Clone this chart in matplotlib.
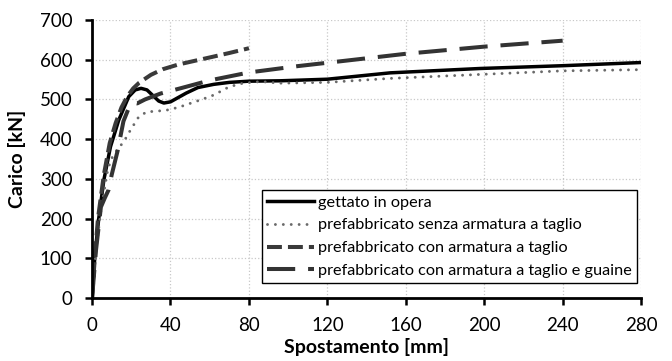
import numpy as np
import matplotlib.pyplot as plt

plt.rcParams['font.family'] = ['Lato', 'DejaVu Sans']

# gettato in opera
x_opera = [0, 1.5, 3.4, 6, 9.4, 13.6, 18.7, 22, 25, 28, 31, 34, 36.6, 40, 44, 48, 54, 62, 70, 80, 96, 120, 152, 198, 240, 280]
y_opera = [0, 110, 200, 297, 381, 448, 507, 524, 528, 524, 510, 496, 491, 494, 505, 516, 530, 538, 543, 546, 547, 551, 567, 578, 585, 593]

# prefabbricato senza armatura a taglio
x_senza = [0, 2, 4.5, 7.7, 9.5, 12.8, 16.2, 19.6, 23.9, 28, 32, 38, 44, 50, 56, 62, 70, 77, 86, 96, 120, 152, 198, 240, 280]
y_senza = [0, 120, 220, 315, 348, 373, 394, 423, 457, 469, 470, 473, 480, 490, 500, 511, 532, 541, 545, 541, 543, 553, 563, 572, 575]

# prefabbricato con armatura a taglio
x_con = [0, 1.5, 3, 6, 9, 12, 15, 18, 21, 24, 30, 36, 44, 53, 62, 70, 80]
y_con = [0, 110, 200, 310, 390, 440, 480, 508, 528, 542, 562, 576, 588, 598, 608, 617, 629]

# prefabbricato con armatura a taglio e guaine
x_guaine = [0, 2, 4.5, 6.5, 8.4, 10, 13, 16, 19, 21, 23, 27, 35, 45, 60, 80, 105, 130, 160, 200, 240]
y_guaine = [0, 120, 229, 252, 272, 310, 370, 445, 482, 492, 490, 500, 515, 528, 548, 568, 584, 598, 615, 633, 648]

labels = ['gettato in opera',
          'prefabbricato senza armatura a taglio',
          'prefabbricato con armatura a taglio',
          'prefabbricato con armatura a taglio e guaine']

fig = plt.figure(figsize=(6.72, 3.61), dpi=100)
ax = fig.add_axes([0.137, 0.1745, 0.817, 0.77])

ax.plot(x_opera, y_opera, color='black', lw=2.5, label=labels[0])
ax.plot(x_senza, y_senza, color='#6a6a6a', lw=2.1, linestyle=(0, (0.01, 2.7)),
        dash_capstyle='round', label=labels[1])
ax.plot(x_con, y_con, color='#3a3a3a', lw=2.9, linestyle=(0, (3.7, 1.5)), label=labels[2])
ax.plot(x_guaine, y_guaine, color='#333333', lw=2.9, linestyle=(0, (7, 3.2)), label=labels[3])

ax.set_xlim(0, 280)
ax.set_ylim(0, 700)
ax.set_xticks(np.arange(0, 281, 40))
ax.set_yticks(np.arange(0, 701, 100))
ax.grid(True, color='#c8c8c8', linestyle=':', lw=0.9)
ax.set_axisbelow(True)

for s in ['top', 'right']:
    ax.spines[s].set_visible(False)
for s in ['left', 'bottom']:
    ax.spines[s].set_linewidth(2)
ax.tick_params(direction='out', length=5, width=1.8, labelsize=13.5)
ax.tick_params(axis='x', pad=9)
ax.tick_params(axis='y', pad=9)

ax.set_xlabel('Spostamento [mm]', fontsize=14, fontweight='bold')
ax.set_ylabel('Carico [kN]', fontsize=14, fontweight='bold')
ax.xaxis.set_label_coords(0.5, -0.145)
ax.yaxis.set_label_coords(-0.12, 0.5)

leg = ax.legend(loc='lower right', bbox_to_anchor=(0.993, 0.054), fontsize=11.7,
                frameon=True, fancybox=False, edgecolor='black', framealpha=1,
                handlelength=2.9, handletextpad=0.25, labelspacing=0.52,
                borderpad=0.3, borderaxespad=0)
leg.get_frame().set_linewidth(1.0)

plt.savefig('out.png', dpi=100)
